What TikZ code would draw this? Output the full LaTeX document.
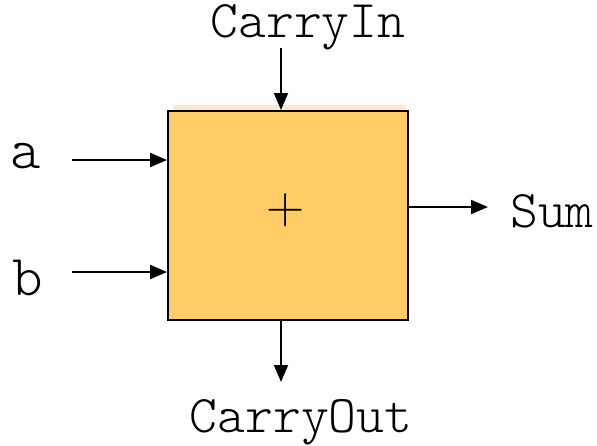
\documentclass[tikz,border=0pt]{standalone}
\usepackage{fontspec}
\setmonofont{lmmonolt10-regular.otf}
\usetikzlibrary{arrows.meta}
\definecolor{adderfill}{HTML}{FFCC66}
\definecolor{adderglow}{HTML}{FDE9D0}
\begin{document}
\begin{tikzpicture}[x=1pt,y=-1pt,
  wire/.style={line width=2pt,-{Triangle[length=17pt,width=14pt]}},
  sig/.style={font=\ttfamily\fontsize{53}{53}\selectfont,inner sep=0pt,anchor=base},
  bigsig/.style={font=\ttfamily\fontsize{58}{58}\selectfont,inner sep=0pt,anchor=base}]
\useasboundingbox (0,0) rectangle (597,445);
% soft band along the top edge of the adder
\fill[adderglow] (173,105) rectangle (406,112);
% the adder block
\node[draw,line width=2pt,fill=adderfill,minimum width=240pt,minimum height=209pt,inner sep=0pt] (adder) at (288,215.5) {};
\node[font=\fontsize{53}{53}\selectfont,inner sep=0pt] (plus) at (286,210) {+};
% signal labels
\node[sig] (cin) at (308,37) {CarryIn};
\node[sig] (cout) at (301,432) {CarryOut};
\node[sig] (sum) at (552,227) {Sum};
\node[bigsig] (a) at (26,168) {a};
\node[bigsig] (b) at (28,295) {b};
% wire end points
\coordinate (cinS) at (281,48);
\coordinate (aS) at (72,160);
\coordinate (bS) at (72,272);
\coordinate (sumE) at (488,207);
\coordinate (coutE) at (281,382);
% wires
\draw[wire] (cinS) -- (cinS |- adder.north);
\draw[wire] (aS) -- (aS -| adder.west);
\draw[wire] (bS) -- (bS -| adder.west);
\draw[wire] (sumE -| adder.east) -- (sumE);
\draw[wire] (coutE |- adder.south) -- (coutE);
\end{tikzpicture}
\end{document}
